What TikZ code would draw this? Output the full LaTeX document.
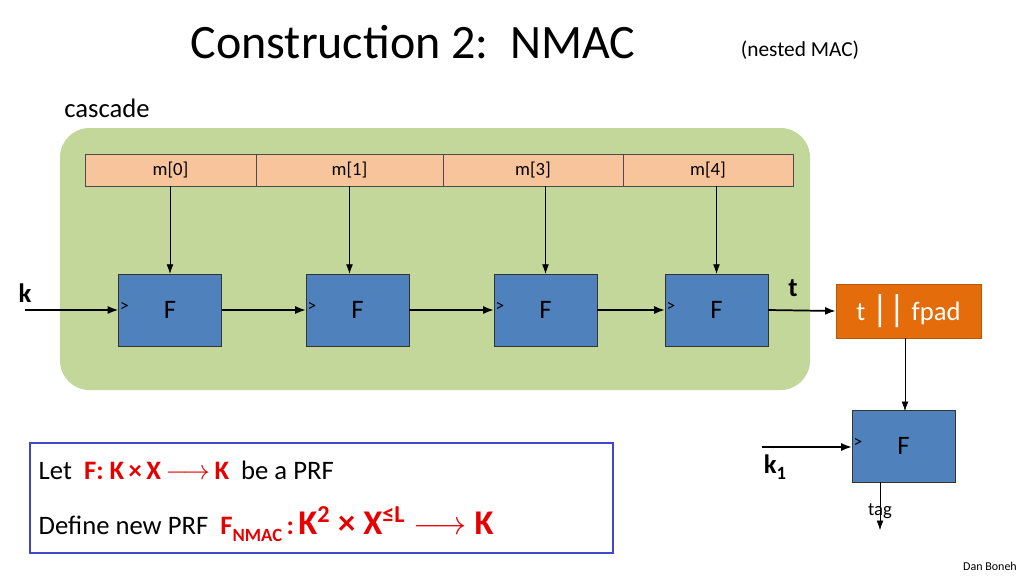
\documentclass[tikz,border=0pt]{standalone}
\usepackage{fontspec}
\setmainfont{Carlito}
\usetikzlibrary{arrows.meta}
\definecolor{grn}{RGB}{196,215,155}
\definecolor{msg}{RGB}{248,196,156}
\definecolor{fb}{RGB}{79,129,189}
\definecolor{org}{RGB}{228,108,10}
\definecolor{bbox}{RGB}{63,72,204}
\definecolor{rd}{RGB}{230,0,0}
\begin{document}
\begin{tikzpicture}[x=0.75pt,y=-0.75pt,
  cell/.style={draw=black!70,fill=msg,minimum height=24pt,inner sep=0pt,font=\fontsize{14}{16}\selectfont},
  fbox/.style={draw=black!80,fill=fb,minimum width=77pt,minimum height=54pt,inner sep=0pt,font=\fontsize{20}{22}\selectfont},
  arr/.style={-{Latex[length=7pt,width=5pt]},thin},
  arrb/.style={-{Latex[length=8pt,width=6pt]},line width=1.3pt}]
\useasboundingbox (0,0) rectangle (1024,576);
\node[font=\fontsize{36}{40}\selectfont] (title) at (413,42) {Construction 2:\ \ NMAC};
\node[font=\fontsize{16}{18}\selectfont] (sub) at (800,50) {(nested MAC)};
\node[font=\fontsize{20}{22}\selectfont] (casc) at (107,108) {cascade};
\fill[grn,rounded corners=22pt] (60,128) rectangle (810,390);
\node[cell,minimum width=128.25pt] (m0) at (170.5,170) {m[0]};
\node[cell,minimum width=140.25pt] (m1) at (349.5,170) {m[1]};
\node[cell,minimum width=135pt] (m3) at (533,170) {m[3]};
\node[cell,minimum width=127.5pt] (m4) at (708,170) {m[4]};
\foreach \n/\x in {f0/170,f1/357.5,f2/545.5,f3/716.5}{
  \node[fbox] (\n) at (\x,310) {F};
  \node[font=\fontsize{13}{14}\selectfont,anchor=west,inner sep=0pt] at ([xshift=1pt,yshift=2pt]\n.west) {>};
}
\draw[arr] (m0.south -| f0) -- (f0);
\draw[arr] (m1.south) -- (m1.south |- f1.north);
\draw[arr] (m3.south -| f2) -- (f2);
\draw[arr] (m4.south -| f3) -- (f3);
\coordinate (kin) at (25,310);
\node[font=\bfseries\fontsize{20}{22}\selectfont] (k) at (25,293) {k};
\draw[arrb] (kin) -- (f0.west);
\draw[arrb] (f0.east) -- (f1.west);
\draw[arrb] (f1.east) -- (f2.west);
\draw[arrb] (f2.east) -- (f3.west);
\node[draw=org!80!black,fill=org,text=white,minimum width=108.75pt,minimum height=40.5pt,inner sep=0pt,font=\fontsize{20}{22}\selectfont] (tp) at (908.5,311) {t \raisebox{-1pt}{\fontsize{28}{28}\selectfont||} fpad};
\draw[arrb] (f3.east) -- (tp.west);
\node[font=\bfseries\fontsize{20}{22}\selectfont] (t) at (793,288) {t};
\node[fbox] (g) at (903.5,446) {F};
\node[font=\fontsize{13}{14}\selectfont,anchor=west,inner sep=0pt] at ([xshift=1pt,yshift=2pt]g.west) {>};
\draw[arr] (tp.south -| 905,0) -- (905,411);
\coordinate (k1in) at (762,447);
\draw[arrb] (k1in) -- (g.west |- k1in);
\node[font=\bfseries\fontsize{20}{22}\selectfont] (k1) at (775,467) {k\raisebox{-4pt}{\fontsize{14}{14}\selectfont 1}};
\coordinate (tagend) at (880,530);
\draw[arr] (g.south -| tagend) -- (tagend);
\node[font=\fontsize{14}{16}\selectfont] (tag) at (880,511) {tag};
\node[draw=bbox,line width=1.8pt,minimum width=437pt,minimum height=82.5pt,inner sep=0pt] (box) at (321.5,498) {};
\node[anchor=west,font=\fontsize{20}{22}\selectfont] (l1) at (34,470) {Let\ \ \textcolor{rd}{\bfseries F: K\,×\,X\,$\longrightarrow$\,K}\ \ be a PRF};
\node[anchor=west,font=\fontsize{20}{22}\selectfont] (l2) at (34,524) {Define new PRF\ \ \textcolor{rd}{\bfseries F\raisebox{-5pt}{\fontsize{14}{14}\selectfont NMAC}\,:\,{\fontsize{26}{26}\selectfont K\textsuperscript{2} × X\textsuperscript{≤L} $\longrightarrow$ K}}};
\node[font=\fontsize{9}{10}\selectfont] (db) at (990,566) {Dan Boneh};
\end{tikzpicture}
\end{document}
